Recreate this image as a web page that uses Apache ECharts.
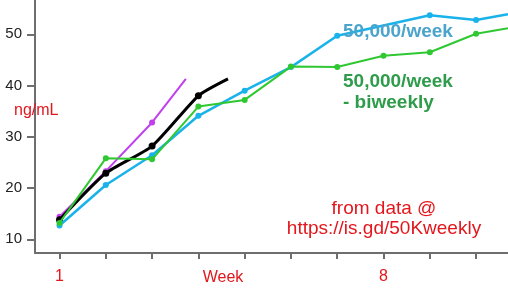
<!DOCTYPE html>
<html>
<head>
<meta charset="utf-8">
<script src="https://cdn.jsdelivr.net/npm/echarts@6/dist/echarts.min.js"></script>
<style>
html,body{margin:0;padding:0;background:#fff;}
#c{width:508px;height:298px;}
</style>
</head>
<body>
<div id="c"></div>
<script>
// ---- data ----
const weeks = [1, 2, 3, 4, 5, 6, 7, 8, 9, 10];
const weeklyVals   = [12.7, 20.6, 26.4, 34.1, 39.0, 43.6, 49.7, null, 53.7, 52.8];   // cyan 50,000/week (week 8 hidden under label)
const weeklyTail   = [10.69, 53.9];
const biweeklyVals = [13.2, 25.8, 25.6, 35.9, 37.2, 43.7, 43.6, 45.8, 46.5, 50.1];   // green 50,000/week - biweekly
const biweeklyTail = [10.69, 51.2];
const blackVals    = [13.8, 22.9, 28.2, 38.0];
const blackTail    = [4.64, 41.3];
const magentaVals  = [14.4, 23.3, 32.8];
const magentaTail  = [3.73, 41.3];
const yTicks = [10, 20, 30, 40, 50];
const xTickLabels = [1, 8];

function pts(vals, tail) {
  const d = vals.map((v, i) => [weeks[i], v]);
  if (tail) d.push({ value: tail, symbolSize: 0 });
  return d;
}

const red = '#e3161c';
const axisGray = '#6e6e6e';
const chart = echarts.init(document.getElementById('c'), null, { renderer: 'canvas' });
chart.setOption({
  animation: false,
  backgroundColor: '#fff',
  grid: { left: 35, right: 0, top: 0, bottom: 45, containLabel: false },
  xAxis: {
    type: 'value', min: 0.47, max: 10.69,
    splitLine: { show: false },
    axisLine: { show: true, lineStyle: { color: axisGray, width: 2 } },
    axisTick: { show: true, length: 6, lineStyle: { color: axisGray, width: 2 }, customValues: weeks },
    axisLabel: { customValues: xTickLabels, color: red, fontSize: 16, fontFamily: 'Liberation Sans', margin: 16 }
  },
  yAxis: {
    type: 'value', min: 7.33, max: 56.69,
    splitLine: { show: false },
    axisLine: { show: true, lineStyle: { color: axisGray, width: 2 } },
    axisTick: { show: true, length: 8, lineStyle: { color: axisGray, width: 2 }, customValues: yTicks },
    axisLabel: { customValues: yTicks, color: '#222', fontSize: 15, fontFamily: 'Liberation Sans', margin: 13 }
  },
  series: [
    { type: 'line', data: pts(magentaVals, magentaTail), color: '#c040ee', symbol: 'circle', symbolSize: 6,
      lineStyle: { width: 2 }, z: 2 },
    { type: 'line', data: pts(blackVals, blackTail), color: '#000', symbol: 'circle', symbolSize: 7,
      smooth: 0.2, lineStyle: { width: 3 }, z: 3 },
    { type: 'line', data: pts(weeklyVals, weeklyTail), color: '#1ab2ea', symbol: 'circle', symbolSize: 6,
      connectNulls: true, lineStyle: { width: 2.5 }, z: 4 },
    { type: 'line', data: pts(biweeklyVals, biweeklyTail), color: '#30c832', symbol: 'circle', symbolSize: 6,
      lineStyle: { width: 2 }, z: 5 }
  ],
  graphic: [
    { type: 'text', left: 343, top: 22, z: 100, style: { text: '50,000/week', fill: '#4aa4cc', font: 'bold 19px "Liberation Sans"' } },
    { type: 'text', left: 343, top: 71, z: 100, style: { text: '50,000/week\n- biweekly', fill: '#2e9c4a', font: 'bold 19px "Liberation Sans"', lineHeight: 21 } },
    { type: 'text', left: 14, top: 103, z: 100, style: { text: 'ng/mL', fill: red, font: '16px "Liberation Sans"' } },
    { type: 'text', x: 223, y: 278, z: 100, style: { text: 'Week', fill: red, font: '16px "Liberation Sans"', align: 'center', verticalAlign: 'middle' } },
    { type: 'text', x: 384, y: 219, z: 100, style: { text: 'from data @\nhttps://is.gd/50Kweekly', fill: red, font: '19px "Liberation Sans"', align: 'center', verticalAlign: 'middle', lineHeight: 20 } }
  ]
});
</script>
</body>
</html>
